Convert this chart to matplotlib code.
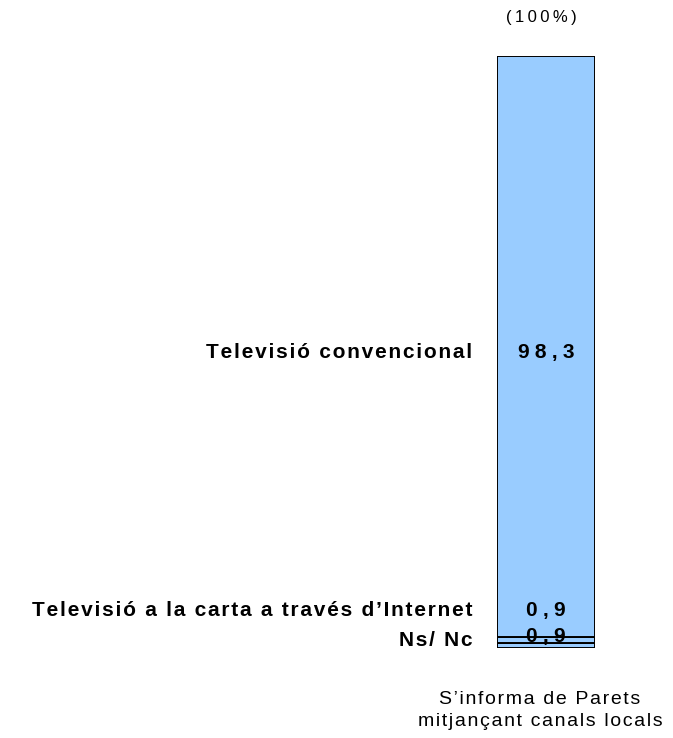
import matplotlib
matplotlib.use("Agg")
import matplotlib.pyplot as plt
from matplotlib.transforms import blended_transform_factory

# Survey breakdown (percent), stacked from the bottom up
categories = ["Ns/ Nc", "Televisió a la carta a través d’Internet", "Televisió convencional"]
values = [0.9, 0.9, 98.3]
value_labels = ["0,9", "0,9", "98,3"]
bar_label = ["S’informa de Parets", "mitjançant canals locals"]
total_label = "(100%)"

# label heights (data units) for the small segments, kept readable
label_y = [1.2, 6.4, None]
value_y = [2.0, 6.4, None]

THIN = "\u2009"
FOUR_PER_EM = "\u2005"
HAIR = "\u200a"


def tracked(s, gap):
    """Widen letter spacing by putting a narrow space between glyphs."""
    return gap.join(s)


plt.rcParams["font.family"] = ["Liberation Sans", "DejaVu Sans"]

fig = plt.figure(figsize=(6.73, 7.38), dpi=100)
ax = fig.add_axes([497 / 673, 1 - 648 / 738, 98 / 673, (648 - 56) / 738])
trans = blended_transform_factory(ax.transAxes, ax.transData)

bottom = 0.0
for i, (cat, v) in enumerate(zip(categories, values)):
    ax.bar(0, v, width=1.0, bottom=bottom, color="#99CCFF",
           edgecolor="black", linewidth=1.4)
    mid = bottom + v / 2
    shift = -4 if label_y[i] is None else 0
    ly = label_y[i] if label_y[i] is not None else mid
    vy = value_y[i] if value_y[i] is not None else mid
    ax.annotate(tracked(value_labels[i], FOUR_PER_EM), (0, vy),
                xytext=(0, shift), textcoords="offset points",
                ha="center", va="center", fontsize=15,
                fontweight="bold", color="black")
    ax.annotate(tracked(cat, HAIR), (-0.255, ly), xycoords=trans,
                xytext=(0, shift), textcoords="offset points",
                ha="right", va="center", fontsize=15,
                fontweight="bold", color="black")
    bottom += v

ax.set_xlim(-0.5, 0.5)
ax.set_ylim(0, sum(values))
ax.axis("off")

ax.text(0.45, 1.065, tracked(total_label, THIN), transform=ax.transAxes,
        ha="center", va="center", fontsize=12, color="black")
ax.text(0.44, -0.105, "\n".join(tracked(t, HAIR) for t in bar_label),
        transform=ax.transAxes, ha="center", va="center", fontsize=14,
        color="black", linespacing=1.4)

fig.savefig("out.png", dpi=100, facecolor="white")
